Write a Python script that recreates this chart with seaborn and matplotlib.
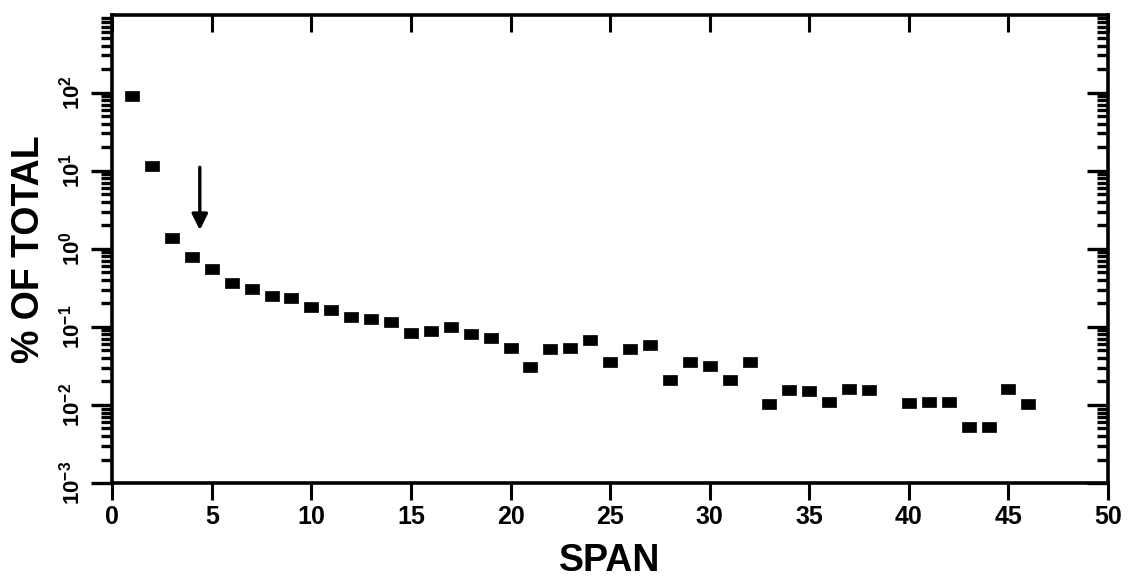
import matplotlib
matplotlib.use("Agg")
import matplotlib.pyplot as plt
import seaborn as sns
import pandas as pd
from matplotlib.ticker import LogLocator, NullFormatter, FixedLocator

# ---- data ----
span = [1, 2, 3, 4, 5, 6, 7, 8, 9, 10,
        11, 12, 13, 14, 15, 16, 17, 18, 19, 20,
        21, 22, 23, 24, 25, 26, 27, 28, 29, 30,
        31, 32, 33, 34, 35, 36, 37, 38, 40,
        41, 42, 43, 44, 45, 46]
pct_total = [90, 11.6, 1.36, 0.78, 0.55, 0.37, 0.31, 0.25, 0.235, 0.18,
             0.163, 0.134, 0.127, 0.117, 0.083, 0.089, 0.099, 0.081, 0.072, 0.053,
             0.031, 0.052, 0.053, 0.068, 0.036, 0.052, 0.059, 0.021, 0.036, 0.032,
             0.021, 0.036, 0.0104, 0.0157, 0.0153, 0.0108, 0.0162, 0.0155, 0.0107,
             0.0108, 0.011, 0.0052, 0.0053, 0.0158, 0.0104]
x_ticks = [0, 5, 10, 15, 20, 25, 30, 35, 40, 45, 50]
y_ticks = [1e-3, 1e-2, 1e-1, 1e0, 1e1, 1e2]
y_tick_labels = [r"$\mathbf{10^{-3}}$", r"$\mathbf{10^{-2}}$", r"$\mathbf{10^{-1}}$",
                 r"$\mathbf{10^{0}}$", r"$\mathbf{10^{1}}$", r"$\mathbf{10^{2}}$"]

df = pd.DataFrame({"span": span, "pct": pct_total})

sns.set_theme(style="white")
plt.rcParams["font.family"] = ["Liberation Sans", "DejaVu Sans"]
plt.rcParams["mathtext.fontset"] = "custom"
plt.rcParams["mathtext.rm"] = "Liberation Sans"
plt.rcParams["mathtext.bf"] = "Liberation Sans:bold"
for k in ["text.color", "axes.labelcolor", "xtick.color", "ytick.color"]:
    plt.rcParams[k] = "black"

fig = plt.figure(figsize=(11.33, 5.82), dpi=100)
ax = fig.add_axes([0.099, 0.17, 0.879, 0.805])

rect = [(-1, -0.62), (1, -0.62), (1, 0.62), (-1, 0.62), (-1, -0.62)]
sns.scatterplot(data=df, x="span", y="pct", marker=rect, s=115,
                color="black", edgecolor="black", linewidth=0.5, ax=ax, legend=False)

ax.set_yscale("log")
ax.set_xlim(0, 50)
ax.set_ylim(1e-3, 1e3)

ax.xaxis.set_major_locator(FixedLocator(x_ticks))
ax.set_xticks(x_ticks)
ax.set_xticklabels([str(v) for v in x_ticks], fontsize=18, fontweight="bold")
ax.set_yticks(y_ticks)
ax.set_yticklabels(y_tick_labels, fontsize=16, rotation=90, va="center")
ax.yaxis.set_minor_locator(LogLocator(base=10, subs=range(2, 10), numticks=20))
ax.yaxis.set_minor_formatter(NullFormatter())

ax.tick_params(axis="x", which="major", direction="out", length=12, width=2.2,
               bottom=True, top=True, labeltop=False, pad=4)
ax.tick_params(axis="y", which="major", direction="out", length=15, width=2.4,
               left=True, right=True, pad=5)
ax.tick_params(axis="y", which="minor", direction="out", length=8, width=2.4,
               left=True, right=True)
for t in ax.xaxis.get_major_ticks():
    t.tick2line.set_marker(3)  # top ticks pointing down (inward)
for t in ax.yaxis.get_major_ticks() + ax.yaxis.get_minor_ticks():
    t.tick2line.set_marker(0)  # right ticks pointing inward

for s in ax.spines.values():
    s.set_visible(True)
    s.set_color("black")
    s.set_linewidth(2.6)

ax.set_xlabel("SPAN", fontsize=27, fontweight="bold", labelpad=10)
ax.set_ylabel("% OF TOTAL", fontsize=27, fontweight="bold", labelpad=8)

ax.annotate("", xy=(4.4, 1.6), xytext=(4.4, 12),
            arrowprops=dict(arrowstyle="-|>", color="black", lw=2.4, mutation_scale=24))

ax.grid(False)
fig.savefig("out.png", dpi=100, facecolor="white")
